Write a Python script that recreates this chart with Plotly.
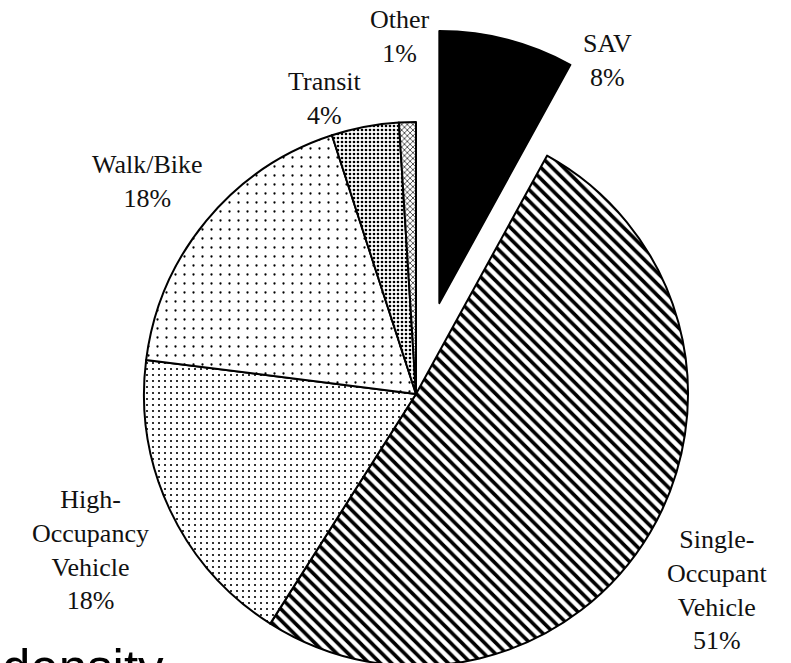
import plotly.graph_objects as go

# data
modes = ["SAV", "Single-<br>Occupant<br>Vehicle", "High-<br>Occupancy<br>Vehicle", "Walk/Bike", "Transit", "Other"]
shares = [8, 51, 18, 18, 4, 1]
pulls = [0.345, 0, 0, 0, 0, 0]

# label centres in pixels (x from left, y from top of first line)
label_px = [(607, 44), (717, 540), (90, 500), (147, 165), (325, 82), (400, 20)]

W, H = 791, 780   # figure is taller than the window so the bottom gets cropped like the slide
cx, cy, R = 416, 394, 272
half = R * (1 + max(pulls))

patterns = [
    dict(shape="", size=8, solidity=0.3),
    dict(shape="\\", size=8, solidity=0.45),
    dict(shape=".", size=6, solidity=0.1),
    dict(shape=".", size=9, solidity=0.05),
    dict(shape=".", size=4, solidity=0.35),
    dict(shape="x", size=4, solidity=0.3),
]
colors = ["black", "white", "white", "white", "white", "white"]

fig = go.Figure(go.Pie(
    labels=[m.replace("<br>", " ") for m in modes],
    values=shares,
    pull=pulls,
    sort=False,
    direction="clockwise",
    rotation=0,
    textinfo="none",
    hoverinfo="label+percent",
    marker=dict(colors=colors, pattern=dict(
        shape=[p["shape"] for p in patterns],
        size=[p["size"] for p in patterns],
        solidity=[p["solidity"] for p in patterns],
        fgcolor="black",
        bgcolor=colors,
        fillmode="replace",
    ), line=dict(color="black", width=2)),
    domain=dict(x=[(cx - half) / W, (cx + half) / W],
                y=[(H - cy - half) / H, (H - cy + half) / H]),
    showlegend=False,
))

for m, s, (px, py) in zip(modes, shares, label_px):
    fig.add_annotation(
        x=px / W, y=1 - (py - 17) / H, xref="paper", yref="paper",
        text=f"{m}<br>{s}%", showarrow=False, xanchor="center", yanchor="top",
        font=dict(family="Liberation Serif", size=26, color="#111"),
    )

# leftover slide caption, cut off at the bottom
fig.add_annotation(
    x=0.0, y=1 - 638 / H, xref="paper", yref="paper", text="density",
    showarrow=False, xanchor="left", yanchor="top",
    font=dict(family="Liberation Sans", size=51, color="black"),
)

fig.update_layout(
    width=W, height=H,
    margin=dict(l=0, r=0, t=0, b=0),
    paper_bgcolor="white", plot_bgcolor="white",
)

fig.write_html("out.html", config={"displayModeBar": False},
               post_script="document.body.style.margin='0';document.body.style.overflow='hidden';")
